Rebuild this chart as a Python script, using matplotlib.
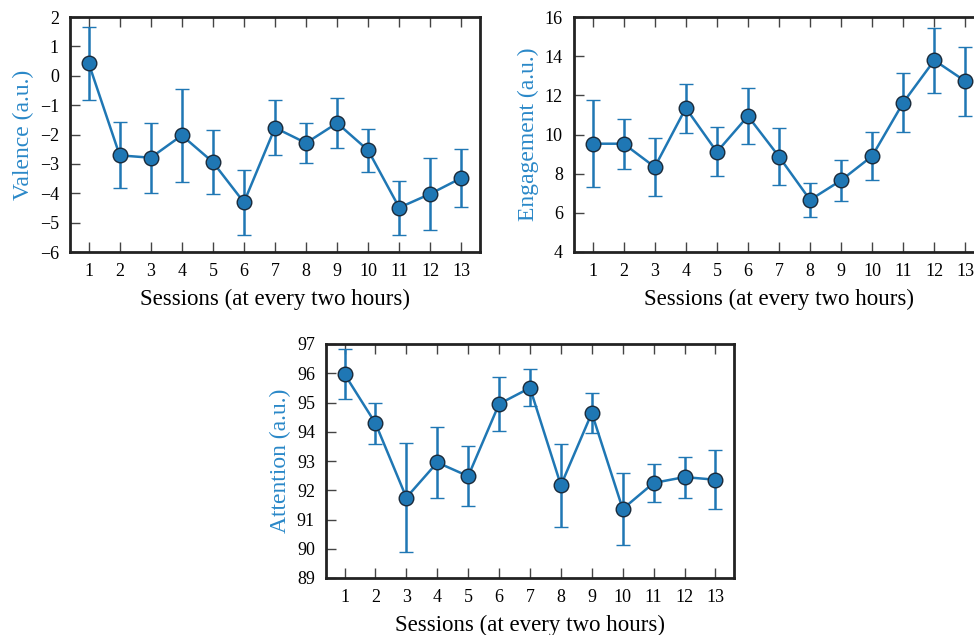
import numpy as np
import matplotlib
matplotlib.use('Agg')
import matplotlib.pyplot as plt

plt.rcParams['font.family'] = ['Liberation Serif', 'DejaVu Serif']
plt.rcParams['mathtext.fontset'] = 'stix'

sessions = list(range(1, 14))

valence = [0.43, -2.71, -2.79, -2.03, -2.94, -4.31, -1.77, -2.29, -1.61, -2.54, -4.49, -4.02, -3.48]
valence_err = [1.24, 1.12, 1.19, 1.58, 1.09, 1.11, 0.93, 0.69, 0.86, 0.74, 0.92, 1.23, 1.00]

engagement = [9.53, 9.53, 8.34, 11.35, 9.11, 10.94, 8.87, 6.66, 7.66, 8.90, 11.63, 13.79, 12.72]
engagement_err = [2.22, 1.27, 1.48, 1.25, 1.25, 1.45, 1.47, 0.85, 1.04, 1.22, 1.49, 1.65, 1.77]

attention = [95.97, 94.29, 91.75, 92.95, 92.48, 94.95, 95.50, 92.17, 94.64, 91.36, 92.25, 92.45, 92.36]
attention_err = [0.86, 0.71, 1.86, 1.22, 1.02, 0.92, 0.63, 1.42, 0.67, 1.22, 0.66, 0.70, 1.00]

blue = '#1f77b4'
label_blue = '#2a88c8'

W, H = 974.0, 635.0
fig = plt.figure(figsize=(9.74, 6.35), dpi=100)

# axes boxes in pixels: left, top, right, bottom
boxes = [(70, 17, 480, 252), (574, 17, 984, 252), (326, 344, 734, 578)]
panels = [
    (valence, valence_err, 'Valence (a.u.)', (-6, 2), np.arange(-6, 3, 1)),
    (engagement, engagement_err, 'Engagement (a.u.)', (4, 16), np.arange(4, 17, 2)),
    (attention, attention_err, 'Attention (a.u.)', (89, 97), np.arange(89, 98, 1)),
]

for (l, t, r, b), (vals, errs, lab, ylim, yt) in zip(boxes, panels):
    ax = fig.add_axes([l / W, 1 - b / H, (r - l) / W, (b - t) / H])
    ax.errorbar(sessions, vals, yerr=errs, color=blue, lw=1.8, elinewidth=1.8,
                capsize=5, capthick=1.5, marker='o', markersize=10.5,
                markerfacecolor=blue, markeredgecolor='#1a2a3a', markeredgewidth=1.0)
    ax.set_xlim(0.4, 13.6)
    ax.set_ylim(*ylim)
    ax.set_xticks(sessions)
    ax.set_yticks(yt)
    ax.set_yticklabels([str(v).replace('-', '\u2212') for v in yt])
    ax.tick_params(axis='x', direction='in', top=True, bottom=True, length=7, width=1,
                   labelsize=13, pad=8, color='#444444')
    ax.tick_params(axis='y', direction='in', left=True, right=False, length=7, width=1,
                   labelsize=13, pad=8, color='#444444')
    for s in ax.spines.values():
        s.set_linewidth(2)
        s.set_color('#222222')
    ax.set_xlabel('Sessions (at every two hours)', fontsize=16.5, labelpad=6)
    ax.set_ylabel(lab, fontsize=17, color=label_blue, labelpad=4)

fig.savefig('out.png', dpi=100)
